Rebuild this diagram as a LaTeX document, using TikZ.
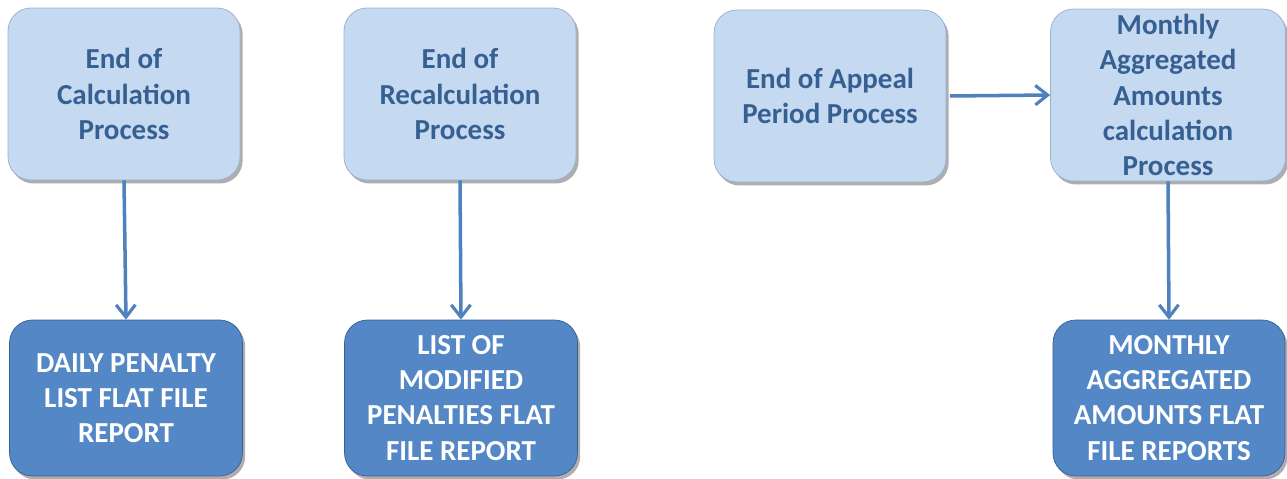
\documentclass[tikz,border=0pt]{standalone}
\usepackage{fontspec}
\setmainfont{Carlito}
\usepackage{xcolor}
\definecolor{paleblue}{RGB}{197,217,241}
\definecolor{paleedge}{RGB}{150,175,208}
\definecolor{deepblue}{RGB}{84,135,198}
\definecolor{deepedge}{RGB}{55,95,145}
\definecolor{inkblue}{RGB}{55,96,146}
\definecolor{linkblue}{RGB}{79,129,189}
\usetikzlibrary{arrows.meta,positioning,shadows}
\tikzset{
  procbox/.style={draw=paleedge, thin, fill=paleblue, rounded corners=13pt,
    minimum width=4.64cm, minimum height=3.44cm, inner sep=0pt,
    align=center, text=inkblue, font=\fontsize{16.5}{20}\selectfont\bfseries,
    drop shadow={shadow xshift=1.5pt, shadow yshift=-2pt, opacity=0.45, fill=black!70}},
  filebox/.style={procbox, draw=deepedge, fill=deepblue, text=white,
    minimum width=4.66cm, minimum height=3.12cm},
  link/.style={-{Straight Barb[length=7pt,width=11pt,line width=1.8pt]},
    draw=linkblue, line width=2pt},
}
\begin{document}
\begin{tikzpicture}[x=0.02cm,y=-0.02cm]
  \useasboundingbox (0,0) rectangle (1287,479);
  %% processes
  \node[procbox] (calc)   at (124,94)  {End of\\Calculation\\Process};
  \node[procbox] (recalc) at (460,94)  {End of\\Recalculation\\Process};
  \node[procbox] (appeal) at (830,96)  {End of Appeal\\Period Process};
  \node[procbox, minimum width=4.7cm] (month) at (1168,95)
    {Monthly\\Aggregated\\Amounts\\calculation\\Process};
  %% flat file reports
  \node[filebox] (daily)    at (126,398) {DAILY PENALTY\\LIST FLAT FILE\\REPORT};
  \node[filebox] (modified) at (461,398) {LIST OF\\MODIFIED\\PENALTIES FLAT\\FILE REPORT};
  \node[filebox, minimum width=4.64cm] (monthly) at (1169,398)
    {MONTHLY\\AGGREGATED\\AMOUNTS FLAT\\FILE REPORTS};
  %% connectors
  \draw[link] (calc.south)   -- (daily.north);
  \draw[link] (recalc.south) -- (modified.north);
  \draw[link] ([xshift=2pt]appeal.east) -- (month.west);
  \draw[link] (month.south)  -- (monthly.north);
\end{tikzpicture}
\end{document}
